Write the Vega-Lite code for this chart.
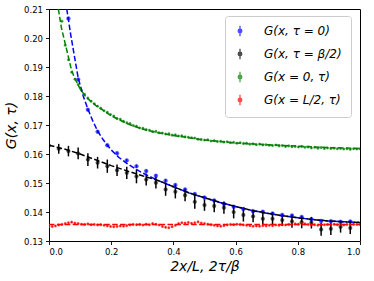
{
  "$schema": "https://vega.github.io/schema/vega-lite/v6.json",
  "width": 311,
  "height": 232,
  "autosize": {"type": "none"},
  "padding": {"left": 49, "top": 9, "right": 14, "bottom": 40},
  "background": "white",
  "config": {
    "view": {"stroke": "black", "strokeWidth": 1},
    "font": "DejaVu Sans",
    "axis": {
      "domain": false, "grid": false, "tickColor": "black", "tickSize": 3.5, "tickWidth": 0.9,
      "labelColor": "black", "labelFont": "DejaVu Sans", "labelFontSize": 8.5, "labelPadding": 3,
      "titleColor": "black", "titleFont": "DejaVu Sans", "titleFontStyle": "italic", "titleFontWeight": "normal", "titleFontSize": 14
    }
  },
  "datasets": {
    "pts": [
      {"s":"a","x":0.0625,"y":0.2067,"e":0.0005},{"s":"a","x":0.09375,"y":0.1857,"e":0.0005},{"s":"a","x":0.125,"y":0.1753,"e":0.0005},{"s":"a","x":0.15625,"y":0.1677,"e":0.0005},{"s":"a","x":0.1875,"y":0.1630,"e":0.0005},{"s":"a","x":0.21875,"y":0.1603,"e":0.0005},{"s":"a","x":0.25,"y":0.1578,"e":0.0005},{"s":"a","x":0.28125,"y":0.1558,"e":0.0005},{"s":"a","x":0.3125,"y":0.1541,"e":0.0005},{"s":"a","x":0.34375,"y":0.1525,"e":0.0005},{"s":"a","x":0.375,"y":0.1508,"e":0.0005},{"s":"a","x":0.40625,"y":0.1493,"e":0.0005},{"s":"a","x":0.4375,"y":0.1478,"e":0.0005},{"s":"a","x":0.46875,"y":0.1462,"e":0.0005},{"s":"a","x":0.5,"y":0.1450,"e":0.0005},{"s":"a","x":0.53125,"y":0.1440,"e":0.0005},{"s":"a","x":0.5625,"y":0.1428,"e":0.0005},{"s":"a","x":0.59375,"y":0.1418,"e":0.0005},{"s":"a","x":0.625,"y":0.1410,"e":0.0005},{"s":"a","x":0.65625,"y":0.1403,"e":0.0005},{"s":"a","x":0.6875,"y":0.1401,"e":0.0005},{"s":"a","x":0.71875,"y":0.1395,"e":0.0005},{"s":"a","x":0.75,"y":0.1390,"e":0.0005},{"s":"a","x":0.78125,"y":0.1388,"e":0.0005},{"s":"a","x":0.8125,"y":0.1383,"e":0.0005},{"s":"a","x":0.84375,"y":0.1375,"e":0.0005},{"s":"a","x":0.875,"y":0.1369,"e":0.0005},{"s":"a","x":0.90625,"y":0.1368,"e":0.0005},{"s":"a","x":0.9375,"y":0.1366,"e":0.0005},{"s":"a","x":0.96875,"y":0.1367,"e":0.0005},
      {"s":"b","x":0,"y":0.1629,"e":0.0018},{"s":"b","x":0.03125,"y":0.1618,"e":0.0017},{"s":"b","x":0.0625,"y":0.1610,"e":0.0018},{"s":"b","x":0.09375,"y":0.1602,"e":0.0020},{"s":"b","x":0.125,"y":0.1581,"e":0.0022},{"s":"b","x":0.15625,"y":0.1570,"e":0.0020},{"s":"b","x":0.1875,"y":0.1558,"e":0.0023},{"s":"b","x":0.21875,"y":0.1544,"e":0.0020},{"s":"b","x":0.25,"y":0.1535,"e":0.0021},{"s":"b","x":0.28125,"y":0.1523,"e":0.0024},{"s":"b","x":0.3125,"y":0.1512,"e":0.0021},{"s":"b","x":0.34375,"y":0.1501,"e":0.0020},{"s":"b","x":0.375,"y":0.1478,"e":0.0022},{"s":"b","x":0.40625,"y":0.1470,"e":0.0023},{"s":"b","x":0.4375,"y":0.1458,"e":0.0021},{"s":"b","x":0.46875,"y":0.1435,"e":0.0024},{"s":"b","x":0.5,"y":0.1424,"e":0.0020},{"s":"b","x":0.53125,"y":0.1421,"e":0.0022},{"s":"b","x":0.5625,"y":0.1415,"e":0.0021},{"s":"b","x":0.59375,"y":0.1400,"e":0.0022},{"s":"b","x":0.625,"y":0.1390,"e":0.0023},{"s":"b","x":0.65625,"y":0.1385,"e":0.0020},{"s":"b","x":0.6875,"y":0.1377,"e":0.0021},{"s":"b","x":0.71875,"y":0.1377,"e":0.0022},{"s":"b","x":0.75,"y":0.1372,"e":0.0020},{"s":"b","x":0.78125,"y":0.1368,"e":0.0022},{"s":"b","x":0.8125,"y":0.1365,"e":0.0021},{"s":"b","x":0.84375,"y":0.1363,"e":0.0020},{"s":"b","x":0.875,"y":0.1340,"e":0.0022},{"s":"b","x":0.90625,"y":0.1342,"e":0.0021},{"s":"b","x":0.9375,"y":0.1349,"e":0.0020},{"s":"b","x":0.96875,"y":0.1345,"e":0.0021},
      {"s":"c","x":0.0417,"y":0.2058,"e":0.0003},{"s":"c","x":0.0521,"y":0.1975,"e":0.0003},{"s":"c","x":0.0625,"y":0.1925,"e":0.0003},{"s":"c","x":0.0729,"y":0.1882,"e":0.0003},{"s":"c","x":0.0833,"y":0.1858,"e":0.0003},{"s":"c","x":0.0938,"y":0.1840,"e":0.0003},{"s":"c","x":0.1042,"y":0.1820,"e":0.0003},{"s":"c","x":0.1146,"y":0.1806,"e":0.0003},{"s":"c","x":0.125,"y":0.1793,"e":0.0003},{"s":"c","x":0.1354,"y":0.1782,"e":0.0003},{"s":"c","x":0.1458,"y":0.1773,"e":0.0003},{"s":"c","x":0.1563,"y":0.1765,"e":0.0003},{"s":"c","x":0.1667,"y":0.1758,"e":0.0003},{"s":"c","x":0.1771,"y":0.1749,"e":0.0003},{"s":"c","x":0.1875,"y":0.1744,"e":0.0003},{"s":"c","x":0.1979,"y":0.1736,"e":0.0003},{"s":"c","x":0.2083,"y":0.1731,"e":0.0003},{"s":"c","x":0.2188,"y":0.1722,"e":0.0003},{"s":"c","x":0.2292,"y":0.1720,"e":0.0003},{"s":"c","x":0.2396,"y":0.1713,"e":0.0003},{"s":"c","x":0.25,"y":0.1708,"e":0.0003},{"s":"c","x":0.2604,"y":0.1705,"e":0.0003},{"s":"c","x":0.2708,"y":0.1698,"e":0.0003},{"s":"c","x":0.2813,"y":0.1696,"e":0.0003},{"s":"c","x":0.2917,"y":0.1690,"e":0.0003},{"s":"c","x":0.3021,"y":0.1689,"e":0.0003},{"s":"c","x":0.3125,"y":0.1684,"e":0.0003},{"s":"c","x":0.3229,"y":0.1682,"e":0.0003},{"s":"c","x":0.3333,"y":0.1677,"e":0.0003},{"s":"c","x":0.3438,"y":0.1678,"e":0.0003},{"s":"c","x":0.3542,"y":0.1673,"e":0.0003},{"s":"c","x":0.3646,"y":0.1672,"e":0.0003},{"s":"c","x":0.375,"y":0.1669,"e":0.0003},{"s":"c","x":0.3854,"y":0.1670,"e":0.0003},{"s":"c","x":0.3958,"y":0.1665,"e":0.0003},{"s":"c","x":0.4063,"y":0.1666,"e":0.0003},{"s":"c","x":0.4167,"y":0.1662,"e":0.0003},{"s":"c","x":0.4271,"y":0.1663,"e":0.0003},{"s":"c","x":0.4375,"y":0.1659,"e":0.0003},{"s":"c","x":0.4479,"y":0.1658,"e":0.0003},{"s":"c","x":0.4583,"y":0.1656,"e":0.0003},{"s":"c","x":0.4688,"y":0.1655,"e":0.0003},{"s":"c","x":0.4792,"y":0.1651,"e":0.0003},{"s":"c","x":0.4896,"y":0.1650,"e":0.0003},{"s":"c","x":0.5,"y":0.1648,"e":0.0003},{"s":"c","x":0.5104,"y":0.1649,"e":0.0003},{"s":"c","x":0.5208,"y":0.1645,"e":0.0003},{"s":"c","x":0.5313,"y":0.1646,"e":0.0003},{"s":"c","x":0.5417,"y":0.1643,"e":0.0003},{"s":"c","x":0.5521,"y":0.1644,"e":0.0003},{"s":"c","x":0.5625,"y":0.1641,"e":0.0003},{"s":"c","x":0.5729,"y":0.1642,"e":0.0003},{"s":"c","x":0.5833,"y":0.1639,"e":0.0003},{"s":"c","x":0.5938,"y":0.1640,"e":0.0003},{"s":"c","x":0.6042,"y":0.1637,"e":0.0003},{"s":"c","x":0.6146,"y":0.1639,"e":0.0003},{"s":"c","x":0.625,"y":0.1636,"e":0.0003},{"s":"c","x":0.6354,"y":0.1637,"e":0.0003},{"s":"c","x":0.6458,"y":0.1634,"e":0.0003},{"s":"c","x":0.6563,"y":0.1635,"e":0.0003},{"s":"c","x":0.6667,"y":0.1632,"e":0.0003},{"s":"c","x":0.6771,"y":0.1634,"e":0.0003},{"s":"c","x":0.6875,"y":0.1631,"e":0.0003},{"s":"c","x":0.6979,"y":0.1632,"e":0.0003},{"s":"c","x":0.7083,"y":0.1630,"e":0.0003},{"s":"c","x":0.7188,"y":0.1629,"e":0.0003},{"s":"c","x":0.7292,"y":0.1631,"e":0.0003},{"s":"c","x":0.7396,"y":0.1628,"e":0.0003},{"s":"c","x":0.75,"y":0.1629,"e":0.0003},{"s":"c","x":0.7604,"y":0.1626,"e":0.0003},{"s":"c","x":0.7708,"y":0.1628,"e":0.0003},{"s":"c","x":0.7813,"y":0.1625,"e":0.0003},{"s":"c","x":0.7917,"y":0.1626,"e":0.0003},{"s":"c","x":0.8021,"y":0.1624,"e":0.0003},{"s":"c","x":0.8125,"y":0.1626,"e":0.0003},{"s":"c","x":0.8229,"y":0.1623,"e":0.0003},{"s":"c","x":0.8333,"y":0.1624,"e":0.0003},{"s":"c","x":0.8438,"y":0.1621,"e":0.0003},{"s":"c","x":0.8542,"y":0.1623,"e":0.0003},{"s":"c","x":0.8646,"y":0.1620,"e":0.0003},{"s":"c","x":0.875,"y":0.1622,"e":0.0003},{"s":"c","x":0.8854,"y":0.1619,"e":0.0003},{"s":"c","x":0.8958,"y":0.1621,"e":0.0003},{"s":"c","x":0.9063,"y":0.1619,"e":0.0003},{"s":"c","x":0.9167,"y":0.1620,"e":0.0003},{"s":"c","x":0.9271,"y":0.1618,"e":0.0003},{"s":"c","x":0.9375,"y":0.1619,"e":0.0003},{"s":"c","x":0.9479,"y":0.1617,"e":0.0003},{"s":"c","x":0.9583,"y":0.1618,"e":0.0003},{"s":"c","x":0.9688,"y":0.1616,"e":0.0003},{"s":"c","x":0.9792,"y":0.1618,"e":0.0003},{"s":"c","x":0.9896,"y":0.1617,"e":0.0003},{"s":"c","x":1,"y":0.1618,"e":0.0003},
      {"s":"d","x":0,"y":0.1349,"e":0.0003},{"s":"d","x":0.0104,"y":0.1350,"e":0.0003},{"s":"d","x":0.0208,"y":0.1352,"e":0.0003},{"s":"d","x":0.0313,"y":0.1355,"e":0.0003},{"s":"d","x":0.0417,"y":0.1357,"e":0.0003},{"s":"d","x":0.0521,"y":0.1360,"e":0.0003},{"s":"d","x":0.0625,"y":0.1363,"e":0.0003},{"s":"d","x":0.0729,"y":0.1365,"e":0.0003},{"s":"d","x":0.0833,"y":0.1362,"e":0.0003},{"s":"d","x":0.0938,"y":0.1360,"e":0.0003},{"s":"d","x":0.1042,"y":0.1358,"e":0.0003},{"s":"d","x":0.1146,"y":0.1357,"e":0.0003},{"s":"d","x":0.125,"y":0.1359,"e":0.0003},{"s":"d","x":0.1354,"y":0.1356,"e":0.0003},{"s":"d","x":0.1458,"y":0.1357,"e":0.0003},{"s":"d","x":0.1563,"y":0.1355,"e":0.0003},{"s":"d","x":0.1667,"y":0.1356,"e":0.0003},{"s":"d","x":0.1771,"y":0.1354,"e":0.0003},{"s":"d","x":0.1875,"y":0.1352,"e":0.0003},{"s":"d","x":0.1979,"y":0.1350,"e":0.0003},{"s":"d","x":0.2083,"y":0.1349,"e":0.0003},{"s":"d","x":0.2188,"y":0.1350,"e":0.0003},{"s":"d","x":0.2292,"y":0.1352,"e":0.0003},{"s":"d","x":0.2396,"y":0.1351,"e":0.0003},{"s":"d","x":0.25,"y":0.1353,"e":0.0003},{"s":"d","x":0.2604,"y":0.1355,"e":0.0003},{"s":"d","x":0.2708,"y":0.1357,"e":0.0003},{"s":"d","x":0.2813,"y":0.1356,"e":0.0003},{"s":"d","x":0.2917,"y":0.1357,"e":0.0003},{"s":"d","x":0.3021,"y":0.1355,"e":0.0003},{"s":"d","x":0.3125,"y":0.1358,"e":0.0003},{"s":"d","x":0.3229,"y":0.1356,"e":0.0003},{"s":"d","x":0.3333,"y":0.1360,"e":0.0003},{"s":"d","x":0.3438,"y":0.1358,"e":0.0003},{"s":"d","x":0.3542,"y":0.1355,"e":0.0003},{"s":"d","x":0.3646,"y":0.1350,"e":0.0003},{"s":"d","x":0.375,"y":0.1347,"e":0.0003},{"s":"d","x":0.3854,"y":0.1346,"e":0.0003},{"s":"d","x":0.3958,"y":0.1349,"e":0.0003},{"s":"d","x":0.4063,"y":0.1354,"e":0.0003},{"s":"d","x":0.4167,"y":0.1360,"e":0.0003},{"s":"d","x":0.4271,"y":0.1363,"e":0.0003},{"s":"d","x":0.4375,"y":0.1362,"e":0.0003},{"s":"d","x":0.4479,"y":0.1364,"e":0.0003},{"s":"d","x":0.4583,"y":0.1361,"e":0.0003},{"s":"d","x":0.4688,"y":0.1363,"e":0.0003},{"s":"d","x":0.4792,"y":0.1366,"e":0.0003},{"s":"d","x":0.4896,"y":0.1362,"e":0.0003},{"s":"d","x":0.5,"y":0.1360,"e":0.0003},{"s":"d","x":0.5104,"y":0.1358,"e":0.0003},{"s":"d","x":0.5208,"y":0.1356,"e":0.0003},{"s":"d","x":0.5313,"y":0.1354,"e":0.0003},{"s":"d","x":0.5417,"y":0.1352,"e":0.0003},{"s":"d","x":0.5521,"y":0.1351,"e":0.0003},{"s":"d","x":0.5625,"y":0.1353,"e":0.0003},{"s":"d","x":0.5729,"y":0.1355,"e":0.0003},{"s":"d","x":0.5833,"y":0.1357,"e":0.0003},{"s":"d","x":0.5938,"y":0.1356,"e":0.0003},{"s":"d","x":0.6042,"y":0.1358,"e":0.0003},{"s":"d","x":0.6146,"y":0.1357,"e":0.0003},{"s":"d","x":0.625,"y":0.1355,"e":0.0003},{"s":"d","x":0.6354,"y":0.1354,"e":0.0003},{"s":"d","x":0.6458,"y":0.1353,"e":0.0003},{"s":"d","x":0.6563,"y":0.1351,"e":0.0003},{"s":"d","x":0.6667,"y":0.1352,"e":0.0003},{"s":"d","x":0.6771,"y":0.1351,"e":0.0003},{"s":"d","x":0.6875,"y":0.1353,"e":0.0003},{"s":"d","x":0.6979,"y":0.1352,"e":0.0003},{"s":"d","x":0.7083,"y":0.1354,"e":0.0003},{"s":"d","x":0.7188,"y":0.1353,"e":0.0003},{"s":"d","x":0.7292,"y":0.1355,"e":0.0003},{"s":"d","x":0.7396,"y":0.1354,"e":0.0003},{"s":"d","x":0.75,"y":0.1356,"e":0.0003},{"s":"d","x":0.7604,"y":0.1355,"e":0.0003},{"s":"d","x":0.7708,"y":0.1357,"e":0.0003},{"s":"d","x":0.7813,"y":0.1358,"e":0.0003},{"s":"d","x":0.7917,"y":0.1359,"e":0.0003},{"s":"d","x":0.8021,"y":0.1358,"e":0.0003},{"s":"d","x":0.8125,"y":0.1360,"e":0.0003},{"s":"d","x":0.8229,"y":0.1359,"e":0.0003},{"s":"d","x":0.8333,"y":0.1357,"e":0.0003},{"s":"d","x":0.8438,"y":0.1355,"e":0.0003},{"s":"d","x":0.8542,"y":0.1356,"e":0.0003},{"s":"d","x":0.8646,"y":0.1354,"e":0.0003},{"s":"d","x":0.875,"y":0.1355,"e":0.0003},{"s":"d","x":0.8854,"y":0.1356,"e":0.0003},{"s":"d","x":0.8958,"y":0.1357,"e":0.0003},{"s":"d","x":0.9063,"y":0.1356,"e":0.0003},{"s":"d","x":0.9167,"y":0.1358,"e":0.0003},{"s":"d","x":0.9271,"y":0.1356,"e":0.0003},{"s":"d","x":0.9375,"y":0.1357,"e":0.0003},{"s":"d","x":0.9479,"y":0.1355,"e":0.0003},{"s":"d","x":0.9583,"y":0.1357,"e":0.0003},{"s":"d","x":0.9688,"y":0.1356,"e":0.0003},{"s":"d","x":0.9792,"y":0.1358,"e":0.0003},{"s":"d","x":0.9896,"y":0.1357,"e":0.0003},{"s":"d","x":1,"y":0.1357,"e":0.0003}
    ],
    "fits": [
      {"s":"a","x":0.057,"y":0.2100},{"s":"a","x":0.0625,"y":0.2063},{"s":"a","x":0.07,"y":0.2010},{"s":"a","x":0.08,"y":0.1948},{"s":"a","x":0.094,"y":0.1862},{"s":"a","x":0.11,"y":0.1800},{"s":"a","x":0.125,"y":0.1755},{"s":"a","x":0.14,"y":0.1716},{"s":"a","x":0.156,"y":0.1680},{"s":"a","x":0.175,"y":0.1648},{"s":"a","x":0.2,"y":0.1614},{"s":"a","x":0.225,"y":0.1588},{"s":"a","x":0.25,"y":0.1568},{"s":"a","x":0.275,"y":0.1551},{"s":"a","x":0.3,"y":0.1535},{"s":"a","x":0.35,"y":0.1509},{"s":"a","x":0.4,"y":0.1487},{"s":"a","x":0.45,"y":0.1466},{"s":"a","x":0.5,"y":0.1449},{"s":"a","x":0.55,"y":0.1433},{"s":"a","x":0.6,"y":0.1419},{"s":"a","x":0.65,"y":0.1406},{"s":"a","x":0.7,"y":0.1396},{"s":"a","x":0.75,"y":0.1387},{"s":"a","x":0.8,"y":0.1380},{"s":"a","x":0.85,"y":0.1374},{"s":"a","x":0.9,"y":0.1369},{"s":"a","x":0.95,"y":0.1366},{"s":"a","x":1,"y":0.1364},
      {"s":"b","x":0,"y":0.1630},{"s":"b","x":0.05,"y":0.1617},{"s":"b","x":0.1,"y":0.1600},{"s":"b","x":0.15,"y":0.1580},{"s":"b","x":0.2,"y":0.1560},{"s":"b","x":0.25,"y":0.1542},{"s":"b","x":0.3,"y":0.1525},{"s":"b","x":0.35,"y":0.1509},{"s":"b","x":0.4,"y":0.1487},{"s":"b","x":0.45,"y":0.1466},{"s":"b","x":0.5,"y":0.1449},{"s":"b","x":0.55,"y":0.1433},{"s":"b","x":0.6,"y":0.1419},{"s":"b","x":0.65,"y":0.1406},{"s":"b","x":0.7,"y":0.1396},{"s":"b","x":0.75,"y":0.1387},{"s":"b","x":0.8,"y":0.1380},{"s":"b","x":0.85,"y":0.1374},{"s":"b","x":0.9,"y":0.1369},{"s":"b","x":0.95,"y":0.1366},{"s":"b","x":1,"y":0.1364},
      {"s":"c","x":0.03,"y":0.2100},{"s":"c","x":0.04,"y":0.2035},{"s":"c","x":0.05,"y":0.1990},{"s":"c","x":0.06,"y":0.1945},{"s":"c","x":0.07,"y":0.1900},{"s":"c","x":0.08,"y":0.1867},{"s":"c","x":0.1,"y":0.1825},{"s":"c","x":0.12,"y":0.1795},{"s":"c","x":0.15,"y":0.1768},{"s":"c","x":0.2,"y":0.1732},{"s":"c","x":0.25,"y":0.1705},{"s":"c","x":0.3,"y":0.1686},{"s":"c","x":0.35,"y":0.1673},{"s":"c","x":0.4,"y":0.1664},{"s":"c","x":0.5,"y":0.1648},{"s":"c","x":0.6,"y":0.1638},{"s":"c","x":0.7,"y":0.1632},{"s":"c","x":0.8,"y":0.1627},{"s":"c","x":0.9,"y":0.1622},{"s":"c","x":1,"y":0.1619},
      {"s":"d","x":0,"y":0.1357},{"s":"d","x":1,"y":0.1357}
    ]
  },
  "encoding": {
    "x": {"field": "x", "type": "quantitative", "scale": {"domain": [0, 1], "nice": false, "zero": false},
          "axis": {"values": [0, 0.2, 0.4, 0.6, 0.8, 1.0], "format": ".1f", "title": "2x/L, 2τ/β", "titlePadding": 3}},
    "y": {"field": "y", "type": "quantitative", "scale": {"domain": [0.13, 0.21], "nice": false, "zero": false},
          "axis": {"values": [0.13, 0.14, 0.15, 0.16, 0.17, 0.18, 0.19, 0.20, 0.21], "format": ".2f", "title": "G(x, τ)", "titlePadding": 5}}
  },
  "layer": [
    {
      "data": {"name": "pts"},
      "transform": [{"filter": "datum.s != 'b'"}],
      "mark": {"type": "errorbar", "ticks": false, "clip": true, "thickness": 1},
      "encoding": {
        "yError": {"field": "e"},
        "color": {"field": "s", "type": "nominal", "scale": {"domain": ["d","c","b","a"], "range": ["#ff0000","#008000","#000000","#0000ff"]}, "legend": null}
      }
    },
    {
      "data": {"name": "pts"},
      "transform": [{"filter": "datum.s == 'b'"}],
      "mark": {"type": "errorbar", "ticks": false, "clip": true, "thickness": 1.5},
      "encoding": {
        "yError": {"field": "e"},
        "color": {"field": "s", "type": "nominal", "scale": {"domain": ["d","c","b","a"], "range": ["#ff0000","#008000","#000000","#0000ff"]}, "legend": null}
      }
    },
    {
      "data": {"name": "pts"},
      "mark": {"type": "point", "shape": "circle", "filled": true, "clip": true, "strokeWidth": 0.3},
      "encoding": {
        "fill": {"field": "s", "type": "nominal", "scale": {"domain": ["a","b","c","d"], "range": ["#0000ff","#000000","#008000","#ff0000"]},
                 "legend": {"title": null, "orient": "none", "legendX": 176, "legendY": 7, "padding": 9,
                   "strokeColor": "#cccccc", "fillColor": "white", "cornerRadius": 3,
                   "labelFont": "DejaVu Sans", "labelFontStyle": "italic", "labelFontSize": 12, "labelColor": "black",
                   "labelOffset": 18, "rowPadding": 7,
                   "symbolType": "M0,-1V1M-0.35,0A0.35,0.35 0 1,0 0.35,0A0.35,0.35 0 1,0 -0.35,0Z",
                   "symbolSize": 110, "symbolStrokeWidth": 1.3,
                   "labelExpr": "datum.label == 'a' ? 'G(x, τ = 0)' : datum.label == 'b' ? 'G(x, τ = β/2)' : datum.label == 'c' ? 'G(x = 0, τ)' : 'G(x = L/2, τ)'"}},
        "stroke": {"field": "s", "type": "nominal", "scale": {"domain": ["a","b","c","d"], "range": ["#0000ff","#000000","#008000","#ff0000"]},
                 "legend": {"title": null, "orient": "none", "legendX": 176, "legendY": 7, "padding": 9,
                   "strokeColor": "#cccccc", "fillColor": "white", "cornerRadius": 3,
                   "labelFont": "DejaVu Sans", "labelFontStyle": "italic", "labelFontSize": 12, "labelColor": "black",
                   "labelOffset": 18, "rowPadding": 7,
                   "symbolType": "M0,-1V1M-0.35,0A0.35,0.35 0 1,0 0.35,0A0.35,0.35 0 1,0 -0.35,0Z",
                   "symbolSize": 110, "symbolStrokeWidth": 1.3,
                   "labelExpr": "datum.label == 'a' ? 'G(x, τ = 0)' : datum.label == 'b' ? 'G(x, τ = β/2)' : datum.label == 'c' ? 'G(x = 0, τ)' : 'G(x = L/2, τ)'"}},
        "size": {"field": "e", "type": "quantitative", "scale": {"type": "threshold", "domain": [0.0004, 0.001], "range": [6.5, 16, 14]}, "legend": null}
      }
    },
    {
      "data": {"name": "fits"},
      "mark": {"type": "line", "strokeDash": [5.5, 2.4], "strokeWidth": 1.5, "clip": true},
      "encoding": {
        "color": {"field": "s", "type": "nominal", "scale": {"domain": ["d","c","b","a"], "range": ["#ff0000","#008000","#000000","#0000ff"]}, "legend": null}
      }
    }
  ]
}
